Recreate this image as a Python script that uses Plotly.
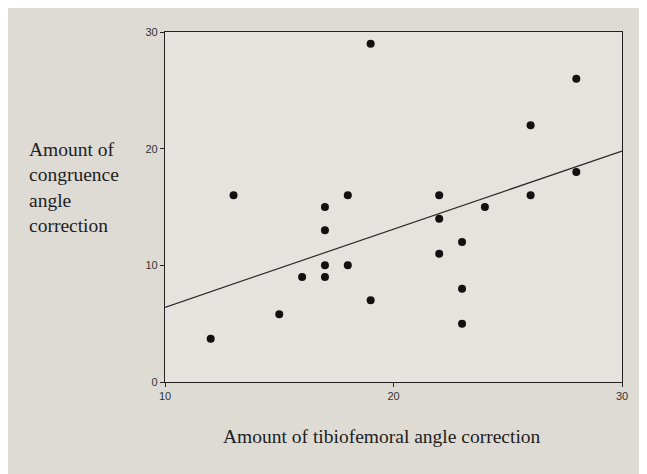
import plotly.graph_objects as go

# Scatter data
tibiofemoral = [12, 13, 15, 16, 17, 17, 17, 17, 18, 18, 19, 19, 22, 22, 22, 23, 23, 23, 24, 26, 26, 28, 28]
congruence = [3.7, 16, 5.8, 9, 15, 13, 10, 9, 16, 10, 29, 7, 16, 14, 11, 12, 8, 5, 15, 22, 16, 26, 18]

# Fitted line endpoints
fit_x = [10, 30]
fit_y = [6.4, 19.8]

x_ticks = [10, 20, 30]
y_ticks = [0, 10, 20, 30]

fig = go.Figure()
fig.add_trace(go.Scatter(x=fit_x, y=fit_y, mode="lines",
                         line=dict(color="#2a2a2a", width=1.2), hoverinfo="skip"))
fig.add_trace(go.Scatter(x=tibiofemoral, y=congruence, mode="markers",
                         marker=dict(color="#111111", size=8, symbol="circle")))

fig.update_layout(
    width=647, height=474,
    margin=dict(l=157, r=33, t=24, b=100),
    paper_bgcolor="#dddbd4",
    plot_bgcolor="#e5e3dd",
    showlegend=False,
    font=dict(family="Liberation Sans", size=11, color="#333333"),
)
axis_common = dict(showgrid=False, zeroline=False, showline=True, linecolor="#222222",
                   linewidth=1.2, mirror=True, ticks="outside", ticklen=4,
                   tickcolor="#222222", tickfont=dict(size=11, color="#333333"))
fig.update_xaxes(range=[10, 30], tickvals=x_ticks, **axis_common)
fig.update_yaxes(range=[0, 30], tickvals=y_ticks, **axis_common)

fig.add_annotation(text="Amount of<br>congruence<br>angle<br>correction",
                   xref="paper", yref="paper", x=-0.302, y=0.556, xanchor="left", yanchor="middle",
                   align="left", showarrow=False,
                   font=dict(family="Liberation Serif", size=19.5, color="#1e1e1e"))
fig.add_annotation(text="Amount of tibiofemoral angle correction",
                   xref="paper", yref="paper", x=0.475, y=-0.157, xanchor="center", yanchor="middle",
                   showarrow=False,
                   font=dict(family="Liberation Serif", size=19.5, color="#1e1e1e"))

fig.write_html("out.html")
